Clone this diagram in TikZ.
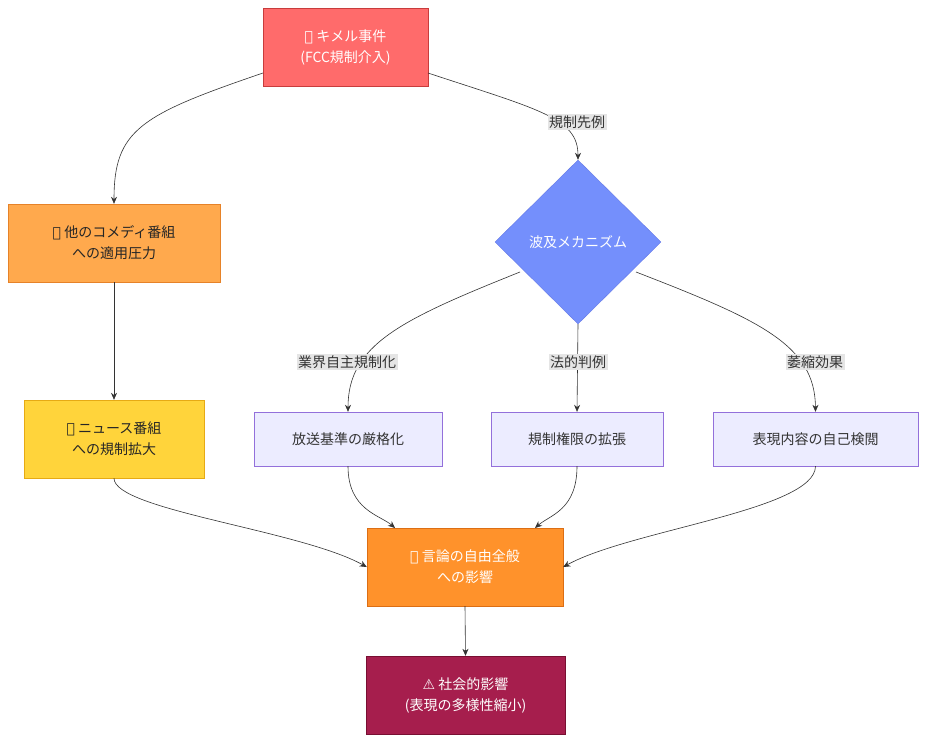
\documentclass[tikz,border=0pt]{standalone}
\usepackage{fontspec}
\setmainfont{Noto Sans CJK JP}
\newfontfamily\emo{DejaVu Sans}
\usetikzlibrary{shapes.geometric,arrows.meta}
\definecolor{lav}{HTML}{ECECFF}
\definecolor{lavb}{HTML}{9370DB}
\tikzset{
 box/.style={draw, rectangle, align=center, font=\fontsize{14}{21}\selectfont, inner sep=0pt},
 lbox/.style={box, fill=lav, draw=lavb, minimum height=54pt, text=black!80},
 lab/.style={fill=black!10, font=\fontsize{14}{16}\selectfont, text=black!80, inner sep=1.5pt},
 e/.style={draw=black!80, line width=0.6pt, -{Stealth[length=7pt,width=6pt]}},
}
\begin{document}
\begin{tikzpicture}[x=1pt,y=-1pt]
\useasboundingbox[fill=white] (0,0) rectangle (926,742);
\node[box, fill={rgb,255:red,255;green,107;blue,107}, draw={rgb,255:red,200;green,60;blue,60}, minimum width=165pt, minimum height=78pt, text=white] (k) at (345.5,47) {{\emo 🎬} キメル事件\\(FCC規制介入)};
\node[box, fill={rgb,255:red,255;green,169;blue,77}, draw={rgb,255:red,230;green,130;blue,40}, minimum width=212pt, minimum height=78pt, text=black!85] (c) at (114,243) {{\emo 📺} 他のコメディ番組\\への適用圧力};
\node[box, fill={rgb,255:red,255;green,212;blue,59}, draw={rgb,255:red,230;green,170;blue,20}, minimum width=180pt, minimum height=78pt, text=black!85] (n) at (114,439) {{\emo 📰} ニュース番組\\への規制拡大};
\node[diamond, draw={rgb,255:red,100;green,120;blue,230}, fill={rgb,255:red,116;green,143;blue,252}, minimum width=166pt, minimum height=164pt, inner sep=0pt, text=white, font=\fontsize{14}{16}\selectfont] (m) at (578,242) {波及メカニズム};
\node[lbox, minimum width=188pt] (b1) at (348,439) {放送基準の厳格化};
\node[lbox, minimum width=172pt] (b2) at (577,439) {規制権限の拡張};
\node[lbox, minimum width=205pt] (b3) at (815.5,439) {表現内容の自己検閲};
\node[box, fill={rgb,255:red,255;green,146;blue,43}, draw={rgb,255:red,220;green,110;blue,20}, minimum width=196pt, minimum height=78pt, text=white] (f) at (465,567) {{\emo 🗣️} 言論の自由全般\\への影響};
\node[box, fill={rgb,255:red,166;green,30;blue,77}, draw={rgb,255:red,120;green,15;blue,50}, minimum width=199pt, minimum height=78pt, text=white] (s) at (465.5,695) {{\emo ⚠️} 社会的影響\\(表現の多様性縮小)};
\coordinate (kl) at (263,73);
\coordinate (kr) at (428,73);
\coordinate (ml) at (520,272);
\coordinate (mr) at (636,272);
\coordinate (f1) at (395,528);
\coordinate (f2) at (535,528);
\draw[e] (kl) .. controls (140,115) and (114,130) .. (c.north);
\draw[e] (kr) .. controls (540,110) and (578,118) .. (m.north);
\draw[e] (ml) .. controls (400,320) and (348,345) .. (b1.north);
\draw[e] (m.south) -- (b2.north);
\draw[e] (mr) .. controls (760,320) and (815,345) .. (b3.north);
\node[lab] (l1) at (577,122) {規制先例};
\node[lab] (l2) at (347,362) {業界自主規制化};
\node[lab] (l3) at (578,362) {法的判例};
\node[lab] (l4) at (815,362) {萎縮効果};
\draw[e] (c.south) -- (n.north);
\draw[e] (n.south) .. controls (114,510) and (300,530) .. (f.west);
\draw[e] (b1.south) .. controls (348,510) and (380,515) .. (f1);
\draw[e] (b2.south) .. controls (577,510) and (550,515) .. (f2);
\draw[e] (b3.south) .. controls (815,510) and (630,530) .. (f.east);
\draw[e] (f.south) -- (s.north);
\end{tikzpicture}
\end{document}
